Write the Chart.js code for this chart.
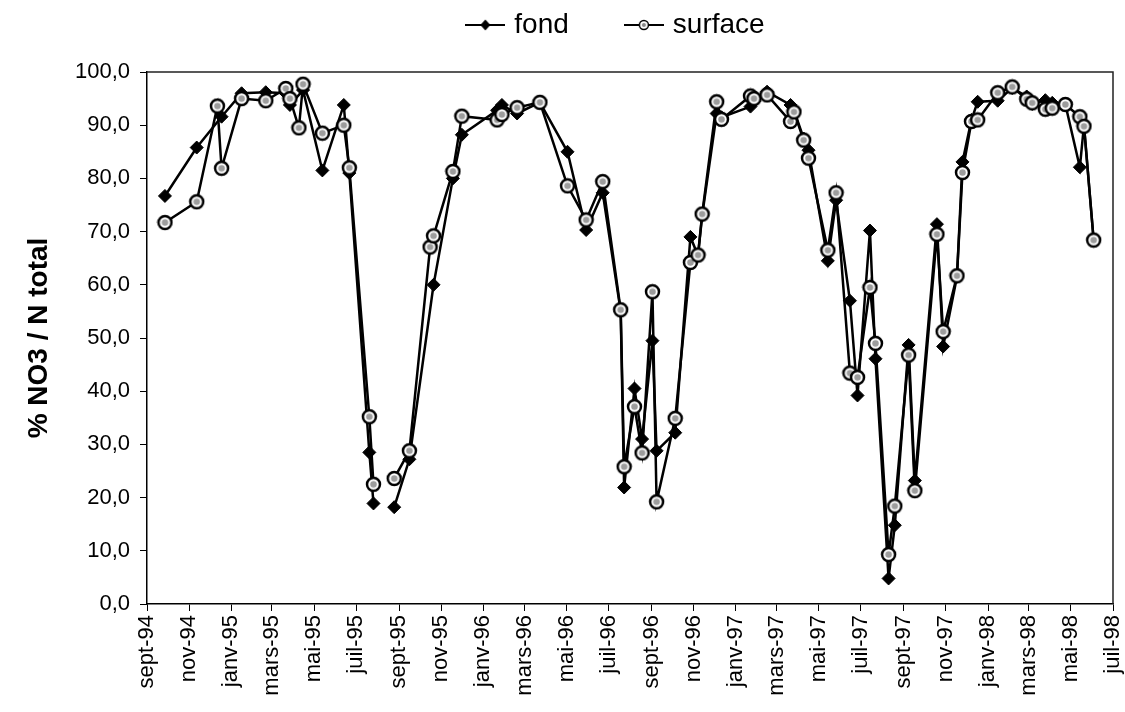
<!DOCTYPE html>
<html>
<head>
<meta charset="utf-8">
<script src="https://cdn.jsdelivr.net/npm/chart.js@4.4.1/dist/chart.umd.min.js"></script>
<style>
  html, body { margin: 0; padding: 0; background: #fff; }
</style>
</head>
<body>
<canvas id="no3Chart" width="1125" height="712"></canvas>
<script>
// dates de prélèvement (null = pas de mesure pour la série)
var dates = [
  '1994-09-27', '1994-11-12', '1994-12-12', '1994-12-18', '1995-01-16', '1995-02-20',
  '1995-03-21', '1995-03-27', '1995-04-09', '1995-04-15', '1995-05-13', '1995-06-13',
  '1995-06-21', '1995-07-20', '1995-07-26', '1995-08-25', '1995-09-16', '1995-10-16',
  '1995-10-21', '1995-11-18', '1995-12-01', '1996-01-21', '1996-01-28', '1996-02-19',
  '1996-03-23', '1996-05-02', '1996-05-29', '1996-06-22', '1996-07-18', '1996-07-23',
  '1996-08-07', '1996-08-18', '1996-09-02', '1996-09-08', '1996-10-05', '1996-10-27',
  '1996-11-07', '1996-11-13', '1996-12-04', '1996-12-11', '1997-01-22', '1997-01-27',
  '1997-02-15', '1997-03-21', '1997-03-26', '1997-04-09', '1997-04-16', '1997-05-14',
  '1997-05-26', '1997-06-15', '1997-06-26', '1997-07-14', '1997-07-22', '1997-08-10',
  '1997-08-19', '1997-09-08', '1997-09-17', '1997-10-19', '1997-10-28', '1997-11-17',
  '1997-11-25', '1997-12-08', '1997-12-17', '1998-01-15', '1998-02-05', '1998-02-26',
  '1998-03-06', '1998-03-25', '1998-04-04', '1998-04-23', '1998-05-14', '1998-05-20',
  '1998-06-03'
];
var fond = [
  76.7, 85.8, null, 91.6, 96.0, 96.2,
  96.0, 93.8, null, 96.6, 81.5, 93.8,
  81.0, 28.5, 18.9, 18.2, 27.2, null,
  60.0, 80.0, 88.2, 92.8, 93.8, 92.2,
  94.3, 85.0, 70.3, 77.3, 55.0, 21.9,
  40.5, 31.0, 49.5, 28.8, 32.2, 69.0,
  65.5, 73.0, 92.2, 91.5, 93.5, 94.5,
  96.3, 93.8, 92.8, 87.5, 85.3, 64.5,
  75.9, 57.0, 39.2, 70.2, 46.1, 4.8,
  14.8, 48.7, 23.2, 71.4, 48.4, 61.5,
  83.1, 91.0, 94.4, 94.6, 97.0, 95.4,
  94.0, 94.7, 94.2, 93.9, 82.1, 90.0,
  68.4
];
var surface = [
  71.7, 75.6, 93.6, 81.9, 95.0, 94.6,
  96.9, 95.0, 89.5, 97.7, 88.5, 90.0,
  82.0, 35.2, 22.5, 23.6, 28.8, 67.1,
  69.2, 81.3, 91.7, 91.0, 92.0, 93.3,
  94.3, 78.6, 72.2, 79.4, 55.3, 25.8,
  37.1, 28.4, 58.7, 19.2, 34.9, 64.2,
  65.6, 73.3, 94.4, 91.1, 95.5, 95.0,
  95.7, 90.7, 92.5, 87.2, 83.8, 66.5,
  77.3, 43.4, 42.6, 59.5, 49.0, 9.3,
  18.4, 46.8, 21.3, 69.5, 51.2, 61.7,
  81.1, 90.7, 91.0, 96.1, 97.2, 94.9,
  94.2, 93.0, 93.2, 93.9, 91.6, 89.8,
  68.4
];
// interruption des mesures : la courbe est coupée
var gaps = ['1995-08-10'];
var tickLabels = [
  'sept-94', 'nov-94', 'janv-95', 'mars-95', 'mai-95', 'juil-95', 'sept-95', 'nov-95',
  'janv-96', 'mars-96', 'mai-96', 'juil-96', 'sept-96', 'nov-96', 'janv-97', 'mars-97',
  'mai-97', 'juil-97', 'sept-97', 'nov-97', 'janv-98', 'mars-98', 'mai-98', 'juil-98'
];

function serie(values) {
  var pts = [];
  dates.forEach(function (d, i) {
    if (values[i] !== null) pts.push({ x: Date.parse(d), y: values[i] });
  });
  gaps.forEach(function (d) { pts.push({ x: Date.parse(d), y: null }); });
  pts.sort(function (a, b) { return a.x - b.x; });
  return pts;
}

// marqueur rond "surface"
function ring(r) {
  var s = Math.ceil(r * 2 + 4);
  var c = document.createElement('canvas');
  c.width = c.height = s;
  var g = c.getContext('2d');
  g.beginPath(); g.arc(s / 2, s / 2, r, 0, 2 * Math.PI);
  g.fillStyle = '#fff'; g.fill();
  g.lineWidth = 2.5; g.strokeStyle = '#000'; g.stroke();
  g.beginPath(); g.arc(s / 2, s / 2, r * 0.5, 0, 2 * Math.PI);
  g.fillStyle = '#9c9c9c'; g.fill();
  return c;
}

// symboles de la légende : trait + marqueur
function legendMark(kind) {
  var c = document.createElement('canvas');
  c.width = 40; c.height = 14;
  var g = c.getContext('2d');
  g.strokeStyle = '#000'; g.lineWidth = 2;
  g.beginPath(); g.moveTo(0, 7); g.lineTo(40, 7); g.stroke();
  if (kind === 'diamond') {
    g.fillStyle = '#000';
    g.beginPath(); g.moveTo(20, 1.5); g.lineTo(25, 7); g.lineTo(20, 12.5); g.lineTo(15, 7); g.closePath(); g.fill();
  } else {
    g.beginPath(); g.arc(20, 7, 4.5, 0, 2 * Math.PI);
    g.fillStyle = '#fff'; g.fill(); g.lineWidth = 1.5; g.stroke();
    g.beginPath(); g.arc(20, 7, 2, 0, 2 * Math.PI); g.fillStyle = '#888'; g.fill();
  }
  return c;
}
var legendMarks = [legendMark('diamond'), legendMark('ring')];

var frame = {
  id: 'frame',
  afterDraw: function (chart) {
    var a = chart.chartArea, ctx = chart.ctx;
    ctx.save();
    ctx.strokeStyle = '#222'; ctx.lineWidth = 1.5;
    ctx.beginPath();
    ctx.moveTo(a.left, a.top); ctx.lineTo(a.right, a.top); ctx.lineTo(a.right, a.bottom);
    ctx.stroke();
    ctx.restore();
  }
};
// place la légende en haut, décalée vers la droite comme dans l'original
var legendShift = {
  id: 'legendShift',
  afterLayout: function (chart) {
    var lg = chart.legend;
    lg.left += 55; lg.right += 55;
    lg.top -= 61;
  }
};

Chart.defaults.font.family = "'Liberation Sans', Arial, sans-serif";
Chart.defaults.color = '#000';

var ctx = document.getElementById('no3Chart');
var no3Chart = new Chart(ctx, {
  type: 'line',
  data: {
    datasets: [{
      label: 'fond',
      data: serie(fond),
      borderColor: '#000',
      borderWidth: 2.5,
      pointStyle: 'rectRot',
      pointRadius: 6.5,
      pointBackgroundColor: '#000',
      pointBorderColor: '#000',
      pointBorderWidth: 1,
      order: 1
    }, {
      label: 'surface',
      data: serie(surface),
      borderColor: '#000',
      borderWidth: 2.5,
      pointStyle: ring(6.5),
      pointRadius: 7,
      order: 0
    }]
  },
  options: {
    responsive: false,
    devicePixelRatio: 1,
    animation: false,
    events: [],
    spanGaps: false,
    layout: { padding: { top: 12, right: 0, bottom: 0, left: 0 } },
    plugins: {
      tooltip: { enabled: false },
      legend: {
        position: 'top',
        maxHeight: 60,
        labels: {
          usePointStyle: true,
          pointStyleWidth: 30,
          padding: 60,
          font: { size: 28 },
          sort: function (a, b) { return a.datasetIndex - b.datasetIndex; },
          generateLabels: function (chart) {
            var items = Chart.defaults.plugins.legend.labels.generateLabels(chart);
            items.forEach(function (it) { it.pointStyle = legendMarks[it.datasetIndex]; });
            return items;
          }
        }
      }
    },
    scales: {
      x: {
        type: 'linear',
        min: Date.UTC(1994, 8, 1),
        max: Date.UTC(1998, 6, 1),
        afterBuildTicks: function (scale) {
          scale.ticks = tickLabels.map(function (l, i) { return { value: Date.UTC(1994, 8 + 2 * i, 1) }; });
        },
        afterFit: function (scale) {
          scale.height = 108;
          scale.paddingLeft = 0;
          scale.paddingRight = 12;
        },
        ticks: {
          autoSkip: false,
          minRotation: 90,
          maxRotation: 90,
          padding: 4,
          font: { size: 22 },
          callback: function (v, i) { return tickLabels[i]; }
        },
        grid: { drawOnChartArea: false, tickLength: 7, color: '#000' },
        border: { color: '#000', width: 1.5 }
      },
      y: {
        min: 0,
        max: 100,
        afterFit: function (scale) { scale.width = 147; },
        ticks: {
          stepSize: 10,
          padding: 10,
          font: { size: 22 },
          callback: function (v) { return v.toFixed(1).replace('.', ','); }
        },
        grid: { drawOnChartArea: false, tickLength: 7, color: '#000' },
        border: { color: '#000', width: 1.5 },
        title: {
          display: true,
          text: '% NO3 / N total',
          font: { size: 28, weight: 'bold' },
          padding: { top: 22, bottom: 0 }
        }
      }
    }
  },
  plugins: [frame, legendShift]
});
</script>
</body>
</html>
